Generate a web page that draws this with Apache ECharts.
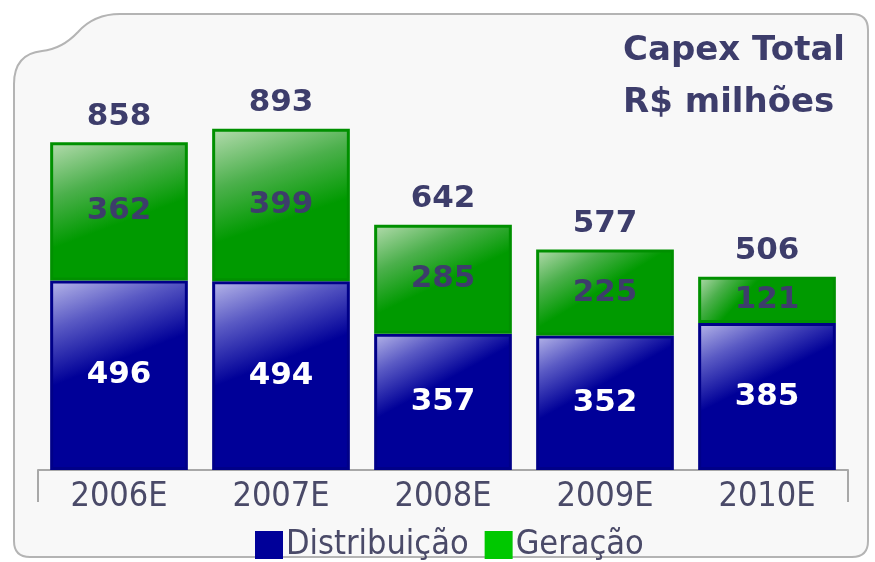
<!DOCTYPE html>
<html lang="pt-BR">
    <head>
        <meta charset="utf-8">
        <title>Capex Total</title>
        <script src="https://cdn.jsdelivr.net/npm/echarts@6/dist/echarts.min.js"></script>
        <style>
            html, body { margin: 0; padding: 0; background: #ffffff; }
        </style>
    </head>
    <body>
    <div id="capex" style="width: 875px;height:562px;"></div>
    <script type="text/javascript">
        var anos = ['2006E', '2007E', '2008E', '2009E', '2010E'];
        var distribuicao = [496, 494, 357, 352, 385];
        var geracao = [362, 399, 285, 225, 121];
        var totais = [858, 893, 642, 577, 506];

        var escuro = '#3d3d6b';
        var fundo = '#f8f8f8';

        // moldura com o canto superior esquerdo recortado
        echarts.graphic.registerShape('moldura', echarts.graphic.extendShape({
          shape: {},
          buildPath: function (ctx) {
            ctx.moveTo(14, 84);
            ctx.quadraticCurveTo(14, 54, 42, 51);
            ctx.quadraticCurveTo(62, 49, 78, 32);
            ctx.quadraticCurveTo(94, 14, 120, 14);
            ctx.lineTo(852, 14);
            ctx.quadraticCurveTo(868, 14, 868, 30);
            ctx.lineTo(868, 541);
            ctx.quadraticCurveTo(868, 557, 852, 557);
            ctx.lineTo(30, 557);
            ctx.quadraticCurveTo(14, 557, 14, 541);
            ctx.closePath();
          }
        }));

        var chart = echarts.init(document.getElementById('capex'));
        chart.setOption({
          animation: false,
          graphic: [{
            type: 'moldura',
            z: -10,
            shape: {},
            style: { fill: fundo, stroke: '#b4b4b4', lineWidth: 2 }
          }, {
            type: 'line',
            z: 5,
            shape: { x1: 38, y1: 470, x2: 38, y2: 502 },
            style: { stroke: '#a8a8a8', lineWidth: 2 }
          }, {
            type: 'line',
            z: 5,
            shape: { x1: 848, y1: 470, x2: 848, y2: 502 },
            style: { stroke: '#a8a8a8', lineWidth: 2 }
          }, {
            type: 'text',
            right: 30,
            top: 25,
            style: {
              text: 'Capex Total\nR$ milhões',
              align: 'right',
              fill: escuro,
              font: 'bold 34px "DejaVu Sans"',
              lineHeight: 52
            }
          }],
          grid: { left: 38, right: 27, top: 88, bottom: 92 },
          legend: {
            data: [
              { name: 'Distribuição', itemStyle: { color: '#000099', borderWidth: 0 } },
              { name: 'Geração', itemStyle: { color: '#00c800', borderWidth: 0 } }
            ],
            top: 523,
            left: 250,
            icon: 'rect',
            itemWidth: 28,
            itemHeight: 28,
            itemGap: 16,
            textStyle: { fontFamily: 'DejaVu Sans Condensed', fontSize: 34, color: '#4a4a68', padding: [0, 0, 0, -2] }
          },
          xAxis: {
            type: 'category',
            data: anos,
            axisLine: { lineStyle: { color: '#a8a8a8', width: 2 } },
            axisTick: { show: false },
            axisLabel: { fontFamily: 'DejaVu Sans Condensed', fontSize: 34, color: '#4a4a68', margin: 10 }
          },
          yAxis: {
            type: 'value',
            min: 0,
            max: 1000,
            show: false,
            splitLine: { show: false }
          },
          series: [{
            name: 'Distribuição',
            type: 'bar',
            stack: 'capex',
            barWidth: '85%',
            data: distribuicao,
            itemStyle: {
              color: new echarts.graphic.LinearGradient(0, 0, 0.35, 0.65, [
                { offset: 0, color: '#b8b8ea' },
                { offset: 0.35, color: '#5a5ac4' },
                { offset: 0.75, color: '#000098' },
                { offset: 1, color: '#000098' }
              ]),
              borderColor: '#000088',
              borderWidth: 3
            },
            label: { show: true, position: 'inside', color: '#ffffff', fontFamily: 'DejaVu Sans', fontWeight: 'bold', fontSize: 31 }
          }, {
            name: 'Geração',
            type: 'bar',
            stack: 'capex',
            data: geracao,
            itemStyle: {
              color: new echarts.graphic.LinearGradient(0, 0, 0.3, 0.8, [
                { offset: 0, color: '#b6dcb0' },
                { offset: 0.45, color: '#4cb04c' },
                { offset: 0.85, color: '#009a00' },
                { offset: 1, color: '#009a00' }
              ]),
              borderColor: '#009000',
              borderWidth: 3
            },
            label: { show: true, position: 'inside', color: escuro, fontFamily: 'DejaVu Sans', fontWeight: 'bold', fontSize: 31 }
          }, {
            // barra vazia no topo da pilha, so para o rotulo do total
            name: 'Total',
            type: 'bar',
            stack: 'capex',
            data: [0, 0, 0, 0, 0],
            itemStyle: { color: 'rgba(0,0,0,0)', borderWidth: 0 },
            label: {
              show: true,
              position: 'top',
              distance: 10,
              formatter: function (p) { return totais[p.dataIndex]; },
              color: escuro,
              fontFamily: 'DejaVu Sans',
              fontWeight: 'bold',
              fontSize: 31
            }
          }]
        });
    </script>
    </body>
</html>
